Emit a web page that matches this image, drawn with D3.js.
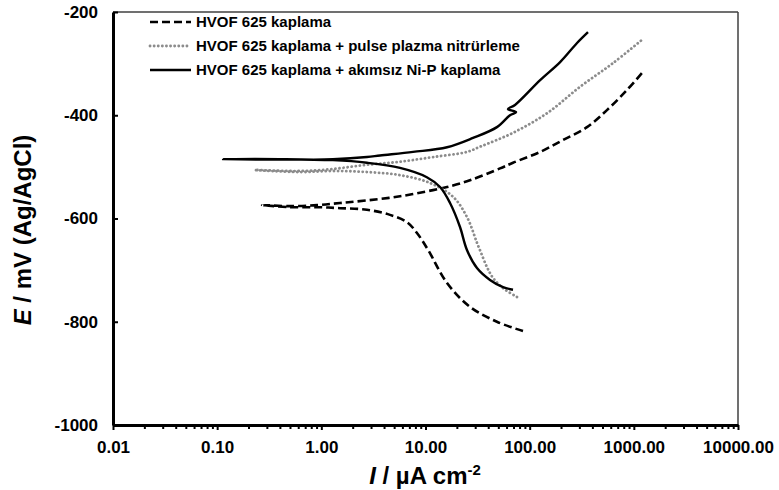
<!DOCTYPE html>
<html>
<head>
<meta charset="utf-8">
<script src="https://cdn.jsdelivr.net/npm/d3@7/dist/d3.min.js"></script>
<style>
  html, body { margin: 0; padding: 0; background: #fff; }
  svg { display: block; font-family: "Liberation Sans", Arial, sans-serif; }
</style>
</head>
<body>
<svg id="chart" width="779" height="490"></svg>
<script>
// ---- data: [current density (µA cm-2), potential (mV)] ----
const seriesNames = [
  "HVOF 625 kaplama",
  "HVOF 625 kaplama + pulse plazma nitrürleme",
  "HVOF 625 kaplama + akımsız Ni-P kaplama"
];
const hvofData = [
  [86.3,-818],[48.5,-800],[26.7,-771],[16.1,-725],[10.6,-661],[8.28,-628],[6.64,-607],
  [4.56,-593],[2.74,-583],[1.51,-580],[0.91,-578],[0.50,-578],[0.27,-574],
  [0.50,-576],[0.91,-574],[1.51,-570],[2.74,-565],[5.69,-557],[11.8,-545],[16.1,-539],
  [26.7,-526],[51.9,-503],[69.2,-492],[126,-471],[209,-448],[355,-423],[552,-390],
  [860,-351],[1224,-316]
];
const nitrideData = [
  [75.5,-752],[55.5,-735],[44.5,-715],[38.9,-694],[33.3,-661],[31.2,-647],[25.0,-597],
  [18.4,-558],[11.0,-531],[5.69,-516],[2.74,-510],[1.29,-508],[0.62,-510],[0.23,-506],
  [0.62,-508],[1.29,-504],[2.74,-496],[5.69,-490],[11.8,-481],[25.0,-471],[33.3,-461],
  [69.2,-434],[147,-396],[304,-345],[631,-299],[1197,-254]
];
const nipData = [
  [69.2,-738],[55.5,-733],[41.6,-719],[31.2,-696],[25.0,-661],[21.4,-616],[17.2,-570],
  [13.8,-539],[10.3,-520],[5.69,-502],[2.74,-492],[1.29,-487],[0.40,-485],[0.114,-485],
  [0.40,-486],[1.29,-485],[2.74,-481],[3.66,-478],[7.59,-471],[16.1,-462],[28.6,-444],
  [48.5,-423],[64.7,-400],[74.0,-394],[61.9,-388],[72.3,-380],[126,-332],[196,-297],
  [285,-260],[363,-239]
];
const xTickValues = [0.01, 0.1, 1, 10, 100, 1000, 10000];
const xTickLabels = ["0.01", "0.10", "1.00", "10.00", "100.00", "1000.00", "10000.00"];
const yTickValues = [-1000, -800, -600, -400, -200];
const yTickLabels = ["-1000", "-800", "-600", "-400", "-200"];

// ---- layout ----
const L = 113, R = 738, T = 12, B = 425;
const svg = d3.select("#chart");
const x = d3.scaleLog().domain([0.01, 10000]).range([L, R]);
const y = d3.scaleLinear().domain([-1000, -200]).range([B, T]);
const FONT = "'Liberation Sans', Arial, sans-serif";

// frame (top/right thin)
svg.append("line").attr("x1", L).attr("x2", R).attr("y1", T).attr("y2", T)
  .attr("stroke", "#404040").attr("stroke-width", 1.5);
svg.append("line").attr("x1", R).attr("x2", R).attr("y1", T).attr("y2", B)
  .attr("stroke", "#404040").attr("stroke-width", 1.5);

// minor x ticks
const minorVals = [];
for (let e = -2; e < 4; e++) for (let k = 2; k <= 9; k++) minorVals.push(k * Math.pow(10, e));
const xMinor = svg.append("g").attr("transform", `translate(0,${B})`)
  .call(d3.axisBottom(x).tickValues(minorVals).tickFormat("").tickSize(4).tickSizeOuter(0));
xMinor.select(".domain").remove();
xMinor.selectAll("line").attr("stroke", "#000").attr("stroke-width", 2);

// major x axis
const xAxis = svg.append("g").attr("transform", `translate(0,${B})`)
  .call(d3.axisBottom(x).tickValues(xTickValues)
    .tickFormat((d, i) => xTickLabels[i]).tickSize(5).tickSizeOuter(0).tickPadding(11));
xAxis.select(".domain").attr("stroke", "#000").attr("stroke-width", 3);
xAxis.selectAll("line").attr("stroke", "#000").attr("stroke-width", 2);
xAxis.selectAll("text").attr("fill", "#000").style("font-size", "17px").style("font-weight", "bold")
  .style("font-family", FONT);

// y axis (ticks inward)
const yAxis = svg.append("g").attr("transform", `translate(${L},0)`)
  .call(d3.axisLeft(y).tickValues(yTickValues)
    .tickFormat((d, i) => yTickLabels[i]).tickSize(-5).tickSizeOuter(0).tickPadding(15));
yAxis.select(".domain").attr("stroke", "#000").attr("stroke-width", 3);
yAxis.selectAll("line").attr("stroke", "#000").attr("stroke-width", 2);
yAxis.selectAll("text").attr("fill", "#000").style("font-size", "17px").style("font-weight", "bold")
  .style("font-family", FONT);

// axis titles
const xt = svg.append("text").attr("x", 425).attr("y", 484).attr("text-anchor", "middle")
  .style("font-size", "24px").style("font-weight", "bold");
xt.append("tspan").style("font-style", "italic").text("I");
xt.append("tspan").text(" / µA cm");
xt.append("tspan").attr("dy", -9).style("font-size", "15px").text("-2");

const yt = svg.append("text").attr("transform", "translate(31,230) rotate(-90)")
  .attr("text-anchor", "middle").style("font-size", "24px").style("font-weight", "bold");
yt.append("tspan").style("font-style", "italic").text("E");
yt.append("tspan").text(" / mV (Ag/AgCl)");

// series
const line = d3.line().x(d => x(d[0])).y(d => y(d[1])).curve(d3.curveCatmullRom.alpha(0.5));
const styles = [
  { data: hvofData, stroke: "#000", dash: "8,4", width: 2.6, cap: "butt" },
  { data: nitrideData, stroke: "#8c8c8c", dash: "0.1,4", width: 2.8, cap: "round" },
  { data: nipData, stroke: "#000", dash: null, width: 2.4, cap: "butt" }
];
const plot = svg.append("g");
styles.forEach(s => {
  plot.append("path").datum(s.data).attr("d", line).attr("fill", "none")
    .attr("stroke", s.stroke).attr("stroke-width", s.width)
    .attr("stroke-dasharray", s.dash).attr("stroke-linecap", s.cap)
    .attr("stroke-linejoin", "round");
});

// legend
const legRows = [22, 46, 70];
styles.forEach((s, i) => {
  const g = svg.append("g");
  g.append("line").attr("x1", 150).attr("x2", 191).attr("y1", legRows[i]).attr("y2", legRows[i])
    .attr("stroke", s.stroke).attr("stroke-width", s.width)
    .attr("stroke-dasharray", s.dash).attr("stroke-linecap", s.cap);
  g.append("text").attr("x", 196).attr("y", legRows[i]).attr("dy", "0.35em")
    .style("font-size", "15px").style("font-weight", "bold").text(seriesNames[i]);
});
</script>
</body>
</html>
